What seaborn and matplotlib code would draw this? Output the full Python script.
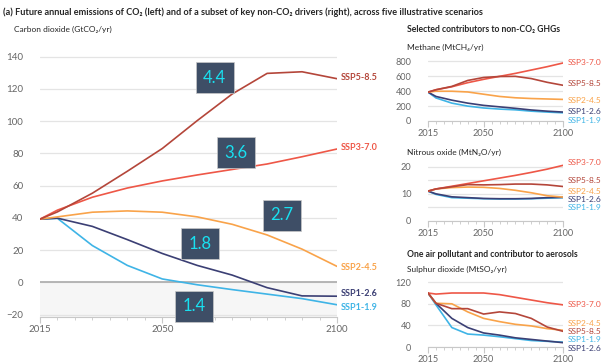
import numpy as np
import pandas as pd
import matplotlib.pyplot as plt
import seaborn as sns
from matplotlib.ticker import MultipleLocator, FixedLocator

sns.set_theme(style="white")
plt.rcParams['font.family'] = ['Lato', 'DejaVu Sans']

years = [2015, 2020, 2030, 2040, 2050, 2060, 2070, 2080, 2090, 2100]
scenarios = ['SSP1-1.9', 'SSP1-2.6', 'SSP2-4.5', 'SSP3-7.0', 'SSP5-8.5']
colors = {'SSP1-1.9': '#3fb4e6', 'SSP1-2.6': '#3b3f74', 'SSP2-4.5': '#f9a34a',
          'SSP3-7.0': '#ee5747', 'SSP5-8.5': '#b4463a'}

co2 = {
    'SSP1-1.9': [39.2, 39.7, 22.8, 10.5, 2.1, -1.5, -4.5, -7.3, -10.1, -13.9],
    'SSP1-2.6': [39.2, 39.8, 34.7, 26.5, 17.9, 10.5, 4.5, -3.3, -8.4, -8.6],
    'SSP2-4.5': [39.2, 40.6, 43.5, 44.3, 43.5, 40.6, 36.0, 29.4, 20.6, 9.9],
    'SSP3-7.0': [39.2, 44.8, 52.8, 58.5, 62.9, 66.6, 70.0, 73.4, 77.9, 82.7],
    'SSP5-8.5': [39.2, 43.7, 55.3, 68.9, 83.0, 100.3, 116.8, 129.6, 130.6, 126.3],
}
ch4 = {
    'SSP1-1.9': [388, 310, 240, 200, 175, 160, 150, 132, 120, 110],
    'SSP1-2.6': [388, 330, 280, 240, 210, 190, 170, 148, 132, 120],
    'SSP2-4.5': [388, 400, 400, 390, 360, 330, 312, 302, 296, 290],
    'SSP3-7.0': [388, 420, 460, 515, 560, 600, 640, 685, 730, 780],
    'SSP5-8.5': [388, 420, 465, 545, 585, 598, 600, 570, 520, 480],
}
n2o = {
    'SSP1-1.9': [11.0, 9.8, 8.6, 8.4, 8.2, 8.1, 8.1, 8.2, 8.4, 8.6],
    'SSP1-2.6': [11.0, 10.0, 8.9, 8.6, 8.3, 8.2, 8.2, 8.3, 8.6, 8.7],
    'SSP2-4.5': [11.0, 11.8, 12.3, 12.5, 12.4, 12.0, 11.3, 10.4, 9.3, 8.8],
    'SSP3-7.0': [11.0, 11.8, 12.8, 13.8, 14.8, 15.8, 16.8, 17.9, 19.1, 20.5],
    'SSP5-8.5': [11.0, 11.8, 12.6, 13.4, 13.3, 13.4, 13.6, 13.6, 13.3, 12.7],
}
so2 = {
    'SSP1-1.9': [100, 78, 36, 24, 22, 19, 15.5, 12, 10.5, 9],
    'SSP1-2.6': [100, 81, 53, 36, 26, 22, 17, 14, 11, 8],
    'SSP2-4.5': [100, 81, 80, 65, 53, 47, 42, 39, 34, 31],
    'SSP3-7.0': [100, 98, 100, 100, 100, 97, 92, 87, 82, 78],
    'SSP5-8.5': [100, 81, 71, 71, 61, 65, 62, 53, 37, 29],
}

# label heights at the right of each panel
co2_lab = {'SSP5-8.5': 127, 'SSP3-7.0': 83.5, 'SSP2-4.5': 9.2, 'SSP1-2.6': -6.8, 'SSP1-1.9': -15.4}
ch4_lab = {'SSP3-7.0': 780, 'SSP5-8.5': 500, 'SSP2-4.5': 275, 'SSP1-2.6': 130, 'SSP1-1.9': 0}
n2o_lab = {'SSP3-7.0': 21.6, 'SSP5-8.5': 14.8, 'SSP2-4.5': 10.7, 'SSP1-2.6': 7.8, 'SSP1-1.9': 4.8}
so2_lab = {'SSP3-7.0': 78, 'SSP2-4.5': 44, 'SSP5-8.5': 29, 'SSP1-1.9': 13, 'SSP1-2.6': -2}

# warming boxes
box_text = ['4.4', '3.6', '2.7', '1.8', '1.4']
box_x = [2065, 2071, 2084.3, 2060.7, 2059]
box_y = [127, 80.3, 41.5, 24, -14.8]


def to_long(d):
    rows = []
    for s in scenarios:
        for y, v in zip(years, d[s]):
            rows.append((s, y, v))
    return pd.DataFrame(rows, columns=['scenario', 'year', 'value'])


grey = '#666666'
fig = plt.figure(figsize=(6.02, 3.64), dpi=100)


def style_axes(ax, ylim, major, grid_step, fs):
    ax.set_xlim(2015, 2100)
    ax.set_ylim(*ylim)
    ax.xaxis.set_major_locator(FixedLocator([2015, 2050, 2100]))
    ax.xaxis.set_minor_locator(MultipleLocator(5))
    ax.yaxis.set_major_locator(MultipleLocator(major))
    ax.yaxis.set_minor_locator(MultipleLocator(grid_step))
    for sp in ['top', 'right', 'left']:
        ax.spines[sp].set_visible(False)
    ax.spines['bottom'].set_color('#c8c8c8')
    ax.spines['bottom'].set_linewidth(0.8)
    ax.tick_params(axis='x', which='major', bottom=True, length=4, width=0.8, color='#c8c8c8',
                   labelsize=fs, labelcolor=grey, pad=1.5)
    ax.tick_params(axis='x', which='minor', bottom=True, length=2.5, width=0.6, color='#c8c8c8')
    ax.tick_params(axis='y', which='both', left=False, labelsize=fs, labelcolor=grey, pad=6)
    ax.grid(axis='y', which='both', color='#e4e4e4', linewidth=0.9)
    ax.set_axisbelow(True)
    ax.set_xlabel('')
    ax.set_ylabel('')


# main CO2 panel
ax = fig.add_axes([0.0664, 0.1291, 0.4934, 0.7198])
ax.axhspan(-21.5, 0, color='#f6f6f6', zorder=0, lw=0)
ax.axhline(0, color='#b0b0b0', lw=1.3, zorder=1)
sns.lineplot(data=to_long(co2), x='year', y='value', hue='scenario', palette=colors,
             lw=1.2, legend=False, ax=ax)
style_axes(ax, (-21.5, 141), 20, 20, 7)
for s, v in co2_lab.items():
    ax.text(2101, v, s, color=colors[s], fontsize=6.5, va='center', ha='left', fontweight='bold')
for t, x, y in zip(box_text, box_x, box_y):
    ax.text(x, y, t, color='#19e0f0', fontsize=12, ha='center', va='center', zorder=5,
            bbox=dict(boxstyle='square,pad=0.45', fc='#3e4e66', ec='#c8c8c8', lw=0.5))

# right panels
panels = [
    (ch4, ch4_lab, [0.711, 0.6676, 0.2243, 0.1676], (0, 820), 200, 200),
    (n2o, n2o_lab, [0.711, 0.3929, 0.2243, 0.1566], (0, 21), 10, 5),
    (so2, so2_lab, [0.711, 0.0467, 0.2243, 0.181], (0, 122), 40, 40),
]
for data, labs, rect, ylim, major, step in panels:
    a = fig.add_axes(rect)
    sns.lineplot(data=to_long(data), x='year', y='value', hue='scenario', palette=colors,
                 lw=1.2, legend=False, ax=a)
    style_axes(a, ylim, major, step, 6.6)
    for s, v in labs.items():
        a.text(2103, v, s, color=colors[s], fontsize=6, va='center', ha='left')

fig.text(0.005, 0.967, '(a) Future annual emissions of CO₂ (left) and of a subset of key non-CO₂ '
         'drivers (right), across five illustrative scenarios', fontsize=6.6, fontweight='bold',
         va='center', ha='left')
fig.text(0.023, 0.918, 'Carbon dioxide (GtCO₂/yr)', fontsize=6, va='center', ha='left')
fig.text(0.676, 0.918, 'Selected contributors to non-CO₂ GHGs', fontsize=6.2, fontweight='bold',
         va='center', ha='left')
fig.text(0.676, 0.871, 'Methane (MtCH₄/yr)', fontsize=6, va='center', ha='left')
fig.text(0.676, 0.580, 'Nitrous oxide (MtN₂O/yr)', fontsize=6, va='center', ha='left')
fig.text(0.676, 0.302, 'One air pollutant and contributor to aerosols', fontsize=6.2, fontweight='bold',
         va='center', ha='left')
fig.text(0.676, 0.261, 'Sulphur dioxide (MtSO₂/yr)', fontsize=6, va='center', ha='left')

fig.savefig('out.png', dpi=100)
